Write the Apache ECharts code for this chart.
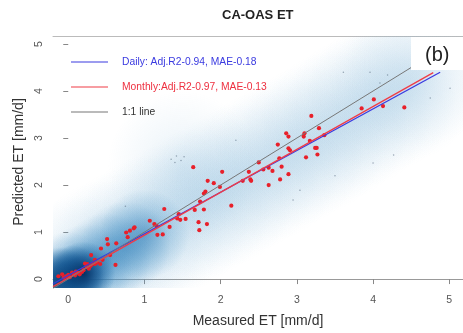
<!DOCTYPE html>
<html>
<head>
<meta charset="utf-8">
<script src="https://cdn.jsdelivr.net/npm/echarts@6/dist/echarts.min.js"></script>
<style>
  html, body { margin: 0; padding: 0; background: #fff; }
  #chart { width: 463px; height: 333px; }
</style>
</head>
<body>
<div id="chart"></div>
<script>
// 月度散点 [实测, 预测]
const monthlyPoints = [
  [-0.13, 0.06], [-0.08, 0.10], [-0.06, 0.03], [-0.03, 0.06], [0.00, 0.09], [0.02, 0.04],
  [0.05, 0.14], [0.07, 0.11], [0.09, 0.08], [0.10, 0.16], [0.12, 0.13], [0.15, 0.10],
  [0.18, 0.15], [0.20, 0.19], [0.22, 0.33], [0.24, 0.26], [0.25, 0.32], [0.27, 0.22],
  [0.29, 0.28], [0.30, 0.30], [0.32, 0.33], [0.35, 0.32], [0.35, 0.41], [0.38, 0.35],
  [0.42, 0.32], [0.45, 0.41],
  [0.30, 0.51], [0.43, 0.65], [0.51, 0.85], [0.52, 0.74], [0.55, 0.51], [0.62, 0.30],
  [0.63, 0.76], [0.76, 0.99], [0.78, 0.89], [0.81, 1.03], [0.86, 1.08], [0.87, 1.10],
  [1.07, 1.24], [1.13, 1.17], [1.16, 1.13], [1.17, 0.94], [1.24, 0.95], [1.26, 1.49],
  [1.33, 1.11], [1.43, 1.29], [1.45, 1.38], [1.47, 1.26], [1.54, 1.28],
  [1.64, 2.38], [1.66, 1.47], [1.71, 1.21], [1.72, 1.04], [1.73, 1.65], [1.78, 1.48],
  [1.78, 1.82], [1.80, 1.86], [1.82, 1.17], [1.83, 2.09], [1.91, 2.04], [1.99, 1.96],
  [2.02, 2.28], [2.14, 1.56],
  [2.29, 2.09], [2.37, 2.28], [2.39, 2.12], [2.40, 2.09], [2.50, 2.48], [2.56, 2.33],
  [2.63, 2.37], [2.63, 2.00], [2.68, 2.30], [2.75, 2.86], [2.77, 2.57], [2.78, 2.12],
  [2.80, 2.39], [2.86, 3.10], [2.89, 3.03], [2.89, 2.78], [2.91, 2.74], [2.89, 2.23],
  [3.09, 3.03], [3.10, 3.10], [3.12, 2.59], [3.17, 2.94], [3.19, 3.47], [3.24, 2.79],
  [3.26, 2.79], [3.27, 2.65], [3.29, 3.21], [3.36, 3.06],
  [3.85, 3.63], [4.01, 3.82], [4.13, 3.68], [4.41, 3.65]
]

// 日尺度零散点（灰色小点）
const dailyDots = [
  [1.35, 2.55], [1.42, 2.62], [1.48, 2.52], [1.52, 2.60], [1.40, 2.48],
  [3.04, 1.89], [2.95, 1.68], [4.00, 2.47], [4.27, 2.64], [4.75, 3.85],
  [5.01, 4.06], [3.61, 4.40], [3.96, 4.40], [4.09, 4.17], [4.19, 4.34],
  [2.20, 2.95], [0.75, 1.55], [3.50, 2.20]
]

// 密度云中心
const cloudHaze = [
  [0.2, 0.2], [0.5, 0.5], [0.8, 0.75], [1.1, 1.05], [1.4, 1.3], [1.7, 1.6],
  [2.0, 1.85], [2.3, 2.15], [2.6, 2.4], [2.9, 2.7], [3.2, 2.95], [3.5, 3.25],
  [3.8, 3.55], [4.1, 3.85], [4.4, 4.1], [4.6, 4.4], [1.5, 2.4]
]
const cloudMid = [[0.0, 0.05], [0.25, 0.22], [0.5, 0.45], [0.75, 0.7], [1.0, 0.95]]
const cloudCore = [[-0.12, 0.0], [0.05, 0.04], [0.2, 0.12]]

// 回归线端点
const dailyFit = [[-0.2, -0.10], [4.88, 4.40]]
const monthlyFit = [[-0.2, -0.16], [4.79, 4.39]]
const oneToOne = [[-0.2, -0.2], [4.5, 4.5]]

const xTicks = [0, 1, 2, 3, 4, 5]
const yTicks = [0, 1, 2, 3, 4, 5]

const FONT = 'Liberation Sans'
const LINE_ICON = 'path://M0,0 L37,0 L37,1.2 L0,1.2 Z'

// 径向渐变圆斑
const blob = (radius, stops) => (params, api) => {
  const p = api.coord([api.value(0), api.value(1)])
  return {
    type: 'circle',
    shape: { cx: p[0], cy: p[1], r: radius },
    style: { fill: new echarts.graphic.RadialGradient(0.5, 0.5, 0.5, stops) }
  }
}

const chart = echarts.init(document.getElementById('chart'))

const option = {
  animation: false,
  textStyle: { fontFamily: FONT },
  title: {
    text: 'CA-OAS ET',
    left: 222,
    top: 9,
    padding: 0,
    textStyle: { fontSize: 13, fontWeight: 'bold', color: '#222', fontFamily: FONT }
  },
  legend: {
    orient: 'vertical',
    left: 66,
    top: 52,
    itemWidth: 37,
    itemHeight: 14,
    itemGap: 15,
    icon: LINE_ICON,
    data: [
      { name: 'Daily: Adj.R2-0.94, MAE-0.18', textStyle: { color: '#3a3ae0' } },
      { name: 'Monthly:Adj.R2-0.97, MAE-0.13', textStyle: { color: '#ee3040' } },
      { name: '1:1 line', textStyle: { color: '#333' } }
    ],
    textStyle: { fontSize: 10.3, fontFamily: FONT, padding: [0, 0, 0, 9] }
  },
  grid: { left: 53, right: 0, top: 36, bottom: 45 },
  xAxis: [
    {
      type: 'value',
      min: -0.2,
      max: 5.18,
      position: 'bottom',
      name: 'Measured ET [mm/d]',
      nameLocation: 'middle',
      nameGap: 26,
      nameTextStyle: { fontSize: 14, color: '#333', fontFamily: FONT },
      axisLine: { show: true, lineStyle: { color: '#999', width: 1 } },
      axisTick: { show: true, length: 5, customValues: xTicks, lineStyle: { color: '#888' } },
      axisLabel: { customValues: xTicks, color: '#555', fontSize: 10.5, margin: 7 },
      splitLine: { show: false }
    },
    {
      type: 'value',
      min: -0.2,
      max: 5.18,
      position: 'top',
      axisLine: { show: true, lineStyle: { color: '#bbb', width: 1 } },
      axisTick: { show: false },
      axisLabel: { show: false },
      splitLine: { show: false }
    }
  ],
  yAxis: {
    type: 'value',
    min: -0.19,
    max: 5.17,
    name: 'Predicted ET [mm/d]',
    nameLocation: 'middle',
    nameGap: 26,
    nameTextStyle: { fontSize: 14, color: '#333', fontFamily: FONT },
    axisLine: { show: false },
    axisTick: { show: true, length: 5, customValues: yTicks, lineStyle: { color: '#888' } },
    axisLabel: { customValues: yTicks, rotate: 90, color: '#555', fontSize: 10.5, margin: 8 },
    splitLine: { show: false }
  },
  graphic: [
    { type: 'rect', left: 411, top: 37, shape: { width: 52, height: 33 }, style: { fill: '#fff' }, z: 100 },
    { type: 'text', left: 425, top: 45, style: { text: '(b)', fontSize: 20, fill: '#222', fontFamily: FONT }, z: 101 }
  ],
  series: [
    {
      type: 'custom',
      silent: true,
      clip: true,
      renderItem: blob(75, [
        { offset: 0, color: 'rgba(110,170,210,0.17)' },
        { offset: 0.5, color: 'rgba(110,170,210,0.08)' },
        { offset: 1, color: 'rgba(110,170,210,0)' }
      ]),
      encode: { x: 0, y: 1 },
      data: cloudHaze,
      z: 1
    },
    {
      type: 'custom',
      silent: true,
      clip: true,
      renderItem: blob(45, [
        { offset: 0, color: 'rgba(40,120,180,0.5)' },
        { offset: 0.6, color: 'rgba(60,140,195,0.2)' },
        { offset: 1, color: 'rgba(60,140,195,0)' }
      ]),
      encode: { x: 0, y: 1 },
      data: cloudMid,
      z: 1
    },
    {
      type: 'custom',
      silent: true,
      clip: true,
      renderItem: blob(32, [
        { offset: 0, color: 'rgba(5,45,95,0.95)' },
        { offset: 0.5, color: 'rgba(15,80,140,0.6)' },
        { offset: 1, color: 'rgba(30,110,170,0)' }
      ]),
      encode: { x: 0, y: 1 },
      data: cloudCore,
      z: 1
    },
    {
      type: 'scatter',
      silent: true,
      symbolSize: 1.5,
      itemStyle: { color: 'rgba(90,110,130,0.6)', opacity: 1 },
      data: dailyDots,
      z: 2
    },
    {
      type: 'scatter',
      symbolSize: 4.2,
      itemStyle: { color: '#e8202a', opacity: 1 },
      data: monthlyPoints,
      z: 3
    },
    {
      name: 'Daily: Adj.R2-0.94, MAE-0.18',
      type: 'line',
      symbol: 'none',
      lineStyle: { color: '#3a3ae0', width: 1.3 },
      itemStyle: { color: '#3a3ae0' },
      data: dailyFit,
      z: 4
    },
    {
      name: 'Monthly:Adj.R2-0.97, MAE-0.13',
      type: 'line',
      symbol: 'none',
      lineStyle: { color: '#f03c46', width: 1.3 },
      itemStyle: { color: '#f03c46' },
      data: monthlyFit,
      z: 4
    },
    {
      name: '1:1 line',
      type: 'line',
      symbol: 'none',
      lineStyle: { color: '#777', width: 1 },
      itemStyle: { color: '#777' },
      data: oneToOne,
      z: 4
    }
  ]
}

chart.setOption(option)
</script>
</body>
</html>
